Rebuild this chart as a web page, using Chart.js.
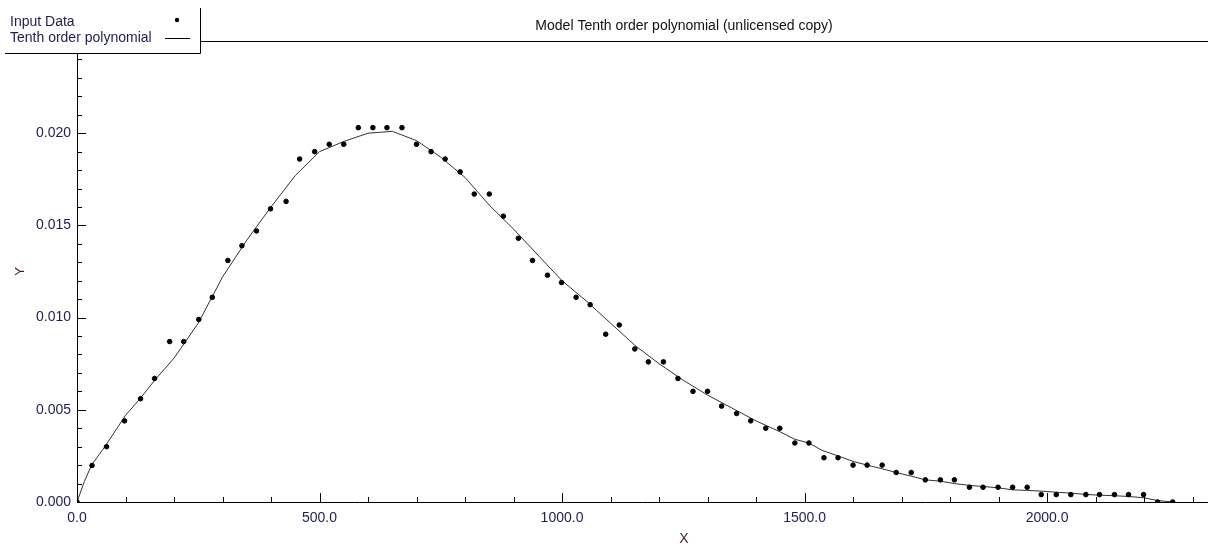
<!DOCTYPE html>
<html>
<head>
<meta charset="utf-8">
<script src="https://cdn.jsdelivr.net/npm/chart.js@4.4.1/dist/chart.umd.min.js"></script>
<style>
  html, body { margin: 0; padding: 0; background: #fff; overflow: hidden; }
  #wrap { width: 1208px; height: 545px; position: relative; }
</style>
</head>
<body>
<div id="wrap"><canvas id="chart"></canvas></div>
<script>
// input data
const dataX = [0, 31, 61, 98, 131, 160, 191, 220, 251, 279, 311, 340, 370, 399, 431, 459, 490, 520, 550, 580,
  610, 639, 670, 700, 730, 759, 790, 819, 850, 879, 910, 939, 970, 999, 1029, 1058, 1090, 1118, 1150, 1178,
  1209, 1239, 1270, 1300, 1329, 1360, 1389, 1420, 1449, 1480, 1509, 1540, 1569, 1600, 1629, 1660, 1689, 1720, 1749, 1780,
  1809, 1840, 1868, 1899, 1929, 1959, 1988, 2019, 2049, 2080, 2108, 2139, 2168, 2199, 2228, 2259];
const dataY = [0, 0.00198, 0.0030, 0.0044, 0.0056, 0.0067, 0.0087, 0.0087, 0.0099, 0.0111, 0.0131, 0.0139, 0.0147, 0.0159, 0.0163, 0.0186, 0.0190, 0.0194, 0.0194, 0.0203,
  0.0203, 0.0203, 0.0203, 0.0194, 0.0190, 0.0186, 0.0179, 0.0167, 0.0167, 0.0155, 0.0143, 0.0131, 0.0123, 0.0119, 0.0111, 0.0107, 0.0091, 0.0096, 0.0083, 0.0076,
  0.0076, 0.0067, 0.0060, 0.0060, 0.0052, 0.0048, 0.0044, 0.0040, 0.0040, 0.0032, 0.0032, 0.0024, 0.0024, 0.0020, 0.0020, 0.0020, 0.0016, 0.0016, 0.0012, 0.0012,
  0.0012, 0.0008, 0.0008, 0.0008, 0.0008, 0.0008, 0.0004, 0.0004, 0.0004, 0.0004, 0.0004, 0.0004, 0.0004, 0.0004, 0, 0];

// fitted tenth order polynomial, sampled off the reference curve
const fitX = [0, 15, 30, 60, 100, 130, 160, 200, 250, 300, 350, 400, 450, 500, 550, 600, 650, 700, 750, 800,
  850, 900, 950, 1000, 1050, 1100, 1150, 1200, 1250, 1300, 1350, 1400, 1450, 1480, 1509, 1536, 1569, 1600, 1629, 1660,
  1689, 1720, 1749, 1780, 1809, 1840, 1868, 1899, 1929, 1959, 1988, 2019, 2049, 2080, 2108, 2139, 2168, 2199, 2228, 2259];
const fitY = [0, 0.0011, 0.0020, 0.0031, 0.0047, 0.0056, 0.0066, 0.0078, 0.0097, 0.0122, 0.0142, 0.0160, 0.0177, 0.0190, 0.01955, 0.0200, 0.0201, 0.0196, 0.0187, 0.0176,
  0.0161, 0.0148, 0.0134, 0.0120, 0.0109, 0.0097, 0.0085, 0.0075, 0.0066, 0.0058, 0.0051, 0.0044, 0.0038, 0.0034, 0.0032, 0.0028, 0.0025, 0.0022, 0.0020, 0.0018,
  0.0016, 0.0014, 0.0012, 0.00113, 0.0010, 0.0009, 0.00084, 0.00077, 0.00066, 0.00063, 0.00059, 0.00053, 0.00048, 0.00041, 0.00037, 0.00034, 0.0003, 0.00023, 0.00008, 0];

const titleText = "Model Tenth order polynomial (unlicensed copy)";
const legendLabels = ["Input Data", "Tenth order polynomial"];
const xMin = 0, xMax = 2325, xMinor = 100, xMajor = 500;
const yMin = 0, yMax = 0.025, yMinor = 0.001, yMajor = 0.005;

const FONT = "'Liberation Sans', Arial, sans-serif";
const labelColor = "#1e1e50";

// axes, ticks, header and legend drawn the way the original tool does
const framePlugin = {
  id: "frame",
  afterDraw(chart) {
    const ctx = chart.ctx;
    const xs = chart.scales.x, ys = chart.scales.y;
    const area = chart.chartArea;
    ctx.save();
    ctx.strokeStyle = "#000";
    ctx.lineWidth = 1;

    // axis lines
    ctx.beginPath();
    ctx.moveTo(area.left, Math.round(area.bottom) + 0.5);
    ctx.lineTo(chart.width, Math.round(area.bottom) + 0.5);
    ctx.moveTo(Math.round(area.left) + 0.5, area.top);
    ctx.lineTo(Math.round(area.left) + 0.5, area.bottom);
    ctx.stroke();

    // tick marks point inward
    ctx.beginPath();
    for (let v = xMin; v <= xMax; v += xMinor) {
      const px = Math.round(xs.getPixelForValue(v)) + 0.5;
      const len = v % xMajor === 0 ? 9 : 5;
      ctx.moveTo(px, area.bottom);
      ctx.lineTo(px, area.bottom - len);
    }
    for (let i = 0; i * yMinor <= yMax + 1e-9; i++) {
      const py = Math.round(ys.getPixelForValue(i * yMinor)) + 0.5;
      const len = i % Math.round(yMajor / yMinor) === 0 ? 9 : 5;
      ctx.moveTo(area.left, py);
      ctx.lineTo(area.left + len, py);
    }
    ctx.stroke();

    // header line and title
    ctx.beginPath();
    ctx.moveTo(200, 41.5);
    ctx.lineTo(chart.width, 41.5);
    ctx.stroke();
    ctx.fillStyle = "#111";
    ctx.font = "14px " + FONT;
    ctx.textAlign = "center";
    ctx.textBaseline = "alphabetic";
    ctx.fillText(titleText, 684, 30);

    // legend panel
    ctx.fillStyle = "#fff";
    ctx.fillRect(0, 0, 200, 53);
    ctx.beginPath();
    ctx.moveTo(200.5, 8);
    ctx.lineTo(200.5, 53.5);
    ctx.lineTo(5, 53.5);
    ctx.stroke();
    ctx.fillStyle = labelColor;
    ctx.textAlign = "left";
    ctx.fillText(legendLabels[0], 10, 26);
    ctx.fillText(legendLabels[1], 10, 42);
    ctx.fillStyle = "#000";
    ctx.beginPath();
    ctx.arc(177, 20, 2.2, 0, Math.PI * 2);
    ctx.fill();
    ctx.beginPath();
    ctx.moveTo(165, 38.5);
    ctx.lineTo(190, 38.5);
    ctx.stroke();

    // x axis title
    ctx.fillStyle = "#4a1f2a";
    ctx.textAlign = "center";
    ctx.fillText("X", 684, 543);
    ctx.restore();
  }
};

new Chart(document.getElementById("chart"), {
  type: "scatter",
  data: {
    datasets: [
      {
        label: legendLabels[0],
        data: dataX.map((x, i) => ({ x: x, y: dataY[i] })),
        backgroundColor: "#000",
        borderColor: "#000",
        pointRadius: 2.3,
        pointHoverRadius: 2.3,
        showLine: false,
        order: 1
      },
      {
        label: legendLabels[1],
        data: fitX.map((x, i) => ({ x: x, y: fitY[i] })),
        borderColor: "#333",
        borderWidth: 1,
        pointRadius: 0,
        showLine: true,
        tension: 0,
        order: 2
      }
    ]
  },
  options: {
    responsive: true,
    maintainAspectRatio: false,
    animation: false,
    layout: { padding: { top: 41, right: 0, left: 0, bottom: 0 } },
    plugins: { legend: { display: false }, tooltip: { enabled: false } },
    scales: {
      x: {
        type: "linear",
        min: xMin,
        max: xMax,
        afterFit: s => { s.height = 43; s.paddingRight = 0; s.paddingLeft = 0; },
        grid: { display: false, drawTicks: false },
        border: { display: false },
        ticks: {
          stepSize: xMinor,
          autoSkip: false,
          maxRotation: 0,
          padding: 8,
          color: labelColor,
          font: { family: FONT, size: 14 },
          callback: v => (v % xMajor === 0 ? v.toFixed(1) : "")
        }
      },
      y: {
        type: "linear",
        min: yMin,
        max: yMax,
        afterFit: s => { s.width = 77; s.paddingTop = 0; s.paddingBottom = 0; },
        grid: { display: false, drawTicks: false },
        border: { display: false },
        ticks: {
          stepSize: yMinor,
          autoSkip: false,
          padding: 6,
          color: labelColor,
          font: { family: FONT, size: 14 },
          callback: v => (Math.round(v * 1000) % 5 === 0 ? v.toFixed(3) : "")
        },
        title: {
          display: true,
          text: "Y",
          color: "#4a1f2a",
          font: { family: FONT, size: 13 },
          padding: { top: 13, bottom: 0 }
        }
      }
    }
  },
  plugins: [framePlugin]
});
</script>
</body>
</html>
